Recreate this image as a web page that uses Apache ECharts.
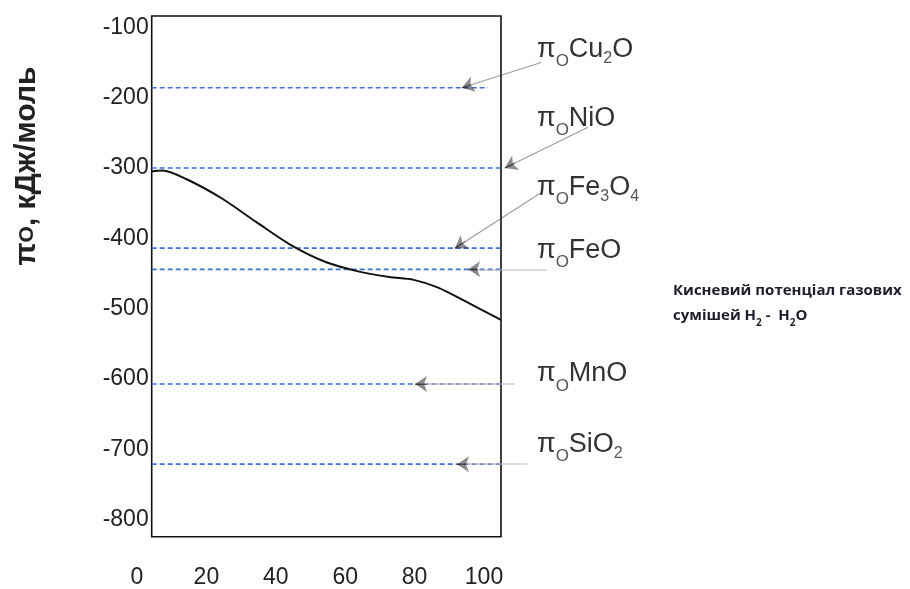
<!DOCTYPE html>
<html><head><meta charset="utf-8">
<script src="https://cdn.jsdelivr.net/npm/echarts@6/dist/echarts.min.js"></script>
<style>html,body{margin:0;padding:0;background:#fff}#c{width:910px;height:589px}</style>
</head><body><div id="c"></div>
<script>
// ---- data ----
const xTickLabels = [0, 20, 40, 60, 80, 100];
const yTickLabels = [-100, -200, -300, -400, -500, -600, -700, -800];
const curveX = [0, 3, 10, 20, 30, 40, 50, 60, 68, 75, 82, 90, 100];
const curveY = [-305, -303.5, -316, -343, -377, -410, -434, -448, -455, -459, -470, -490, -516];
const oxideNames = ['Cu2O', 'NiO', 'Fe3O4', 'FeO', 'MnO', 'SiO2'];
const oxideLevels = [-186, -300, -414, -444, -607, -721];
const levelEndX = [96.3, 100, 100, 100, 100, 100];
const arrowStartX = [111.5, 124.9, 111.2, 113.2, 103.9, 107.5];
const arrowStartY = [-150, -242, -336, -444, -607, -721];
const arrowEndX = [88.8, 101.1, 86.8, 90.6, 75.4, 87.4];
const yAxisTitle = ['π', 'O', ', кДж/моль'];
const noteLine1 = 'Кисневий потенціал газових';
const noteLine2 = ['сумішей H', '2', ' -  H', '2', 'O'];

// ---- layout ----
const labelPos = [[537, 48], [537, 117], [537, 186], [537, 249], [537, 372.5], [537, 443]];
const FONT = '"Liberation Sans", Arial, sans-serif';

const chart = echarts.init(document.getElementById('c'), null, { renderer: 'canvas' });

function richName(n) {
  return '{p|π}{o|O}' + n.replace(/([A-Za-z]+)|(\d+)/g, (m, a, d) => a ? '{m|' + a + '}' : '{s|' + d + '}');
}

const series = [];
series.push({
  type: 'line', xAxisIndex: 0, yAxisIndex: 0, z: 4,
  data: curveX.map((x, i) => [x, curveY[i]]),
  smooth: 0.3, symbol: 'none',
  lineStyle: { color: '#111', width: 2 }
});
oxideLevels.forEach((v, i) => {
  series.push({
    type: 'line', xAxisIndex: 0, yAxisIndex: 0, z: 3,
    data: [[0, v], [levelEndX[i], v]], symbol: 'none',
    lineStyle: { color: '#3f6fd0', width: 1.7, type: [5, 3] }
  });
});
const horiz = arrowStartY.map((y, i) => y === oxideLevels[i]);
series.push({
  type: 'lines', coordinateSystem: 'cartesian2d', xAxisIndex: 0, yAxisIndex: 0, clip: false, z: 5,
  symbol: ['none', 'none'],
  data: arrowStartX.map((x, i) => ({
    coords: [[x, arrowStartY[i]], [arrowEndX[i], oxideLevels[i]]],
    lineStyle: { color: horiz[i] ? '#b4b4b4' : '#3a3a3a', width: horiz[i] ? 1.8 : 1.1 }
  }))
});
series.push({
  type: 'lines', coordinateSystem: 'cartesian2d', xAxisIndex: 0, yAxisIndex: 0, clip: false, z: 6,
  symbol: ['none', 'arrow'], symbolSize: [7, 12],
  lineStyle: { color: '#1a1a1a', width: 1.2 },
  data: arrowStartX.map((x, i) => {
    const ex = arrowEndX[i], ey = oxideLevels[i];
    const f = 0.12;
    return { coords: [[ex + (x - ex) * f, ey + (arrowStartY[i] - ey) * f], [ex, ey]] };
  })
});

const graphics = oxideNames.map((n, i) => ({
  type: 'text', left: labelPos[i][0], top: labelPos[i][1] - 12, z: 10,
  style: {
    text: richName(n), fill: '#333',
    rich: {
      p: { fontSize: 27, fontFamily: FONT, lineHeight: 30, verticalAlign: 'top', fill: '#333' },
      o: { fontSize: 17, fontFamily: FONT, lineHeight: 18, verticalAlign: 'top', padding: [17, 0, 0, 0], fill: '#555' },
      m: { fontSize: 27, fontFamily: FONT, lineHeight: 30, verticalAlign: 'top', fill: '#333' },
      s: { fontSize: 16, fontFamily: FONT, lineHeight: 17, verticalAlign: 'top', padding: [15, 0, 0, 0], fill: '#555' }
    }
  }
}));
graphics.push({
  type: 'text', x: 27, y: 166, rotation: Math.PI / 2, z: 10,
  style: {
    text: '{a|' + yAxisTitle[0] + '}{b|' + yAxisTitle[1] + '}{a|' + yAxisTitle[2] + '}',
    align: 'center', verticalAlign: 'middle',
    rich: {
      a: { fontSize: 30, fontWeight: 'bold', fontFamily: FONT, fill: '#222', lineHeight: 32 },
      b: { fontSize: 21, fontWeight: 'bold', fontFamily: FONT, fill: '#222', lineHeight: 32 }
    }
  }
});
graphics.push({
  type: 'text', left: 673, top: 283, z: 10,
  style: {
    text: '{t|' + noteLine1 + '}\n{t|' + noteLine2[0] + '}{s|' + noteLine2[1] + '}{t|' + noteLine2[2] + '}{s|' + noteLine2[3] + '}{t|' + noteLine2[4] + '}',
    rich: {
      t: { fontSize: 15, fontWeight: 'bold', fontFamily: '"Open Sans", sans-serif', fill: '#1d1d2b', lineHeight: 25 },
      s: { fontSize: 10, fontWeight: 'bold', fontFamily: '"Open Sans", sans-serif', fill: '#1d1d2b', lineHeight: 21, verticalAlign: 'bottom' }
    }
  }
});

chart.setOption({
  animation: false,
  backgroundColor: '#fff',
  grid: [
    { left: 151.7, top: 16, width: 349.3, height: 520.7, show: true, borderColor: '#111', borderWidth: 1.6, backgroundColor: 'transparent' },
    { left: 137, top: 16, width: 347, height: 520.7, show: false }
  ],
  xAxis: [
    { type: 'value', gridIndex: 0, min: 0, max: 100, axisLine: { show: false }, axisTick: { show: false }, axisLabel: { show: false }, splitLine: { show: false } },
    { type: 'value', gridIndex: 1, min: 0, max: 100, interval: 20, axisLine: { show: false }, axisTick: { show: false }, splitLine: { show: false },
      axisLabel: { show: true, margin: 32, fontSize: 23, fontFamily: FONT, color: '#222', customValues: xTickLabels } }
  ],
  yAxis: [
    { type: 'value', gridIndex: 0, min: -824, max: -84, axisLine: { show: false }, axisTick: { show: false }, splitLine: { show: false },
      axisLabel: { show: true, margin: 3, fontSize: 23, fontFamily: FONT, color: '#222', customValues: yTickLabels } },
    { type: 'value', gridIndex: 1, min: 0, max: 1, show: false }
  ],
  series: series,
  graphic: graphics
});
</script></body></html>
